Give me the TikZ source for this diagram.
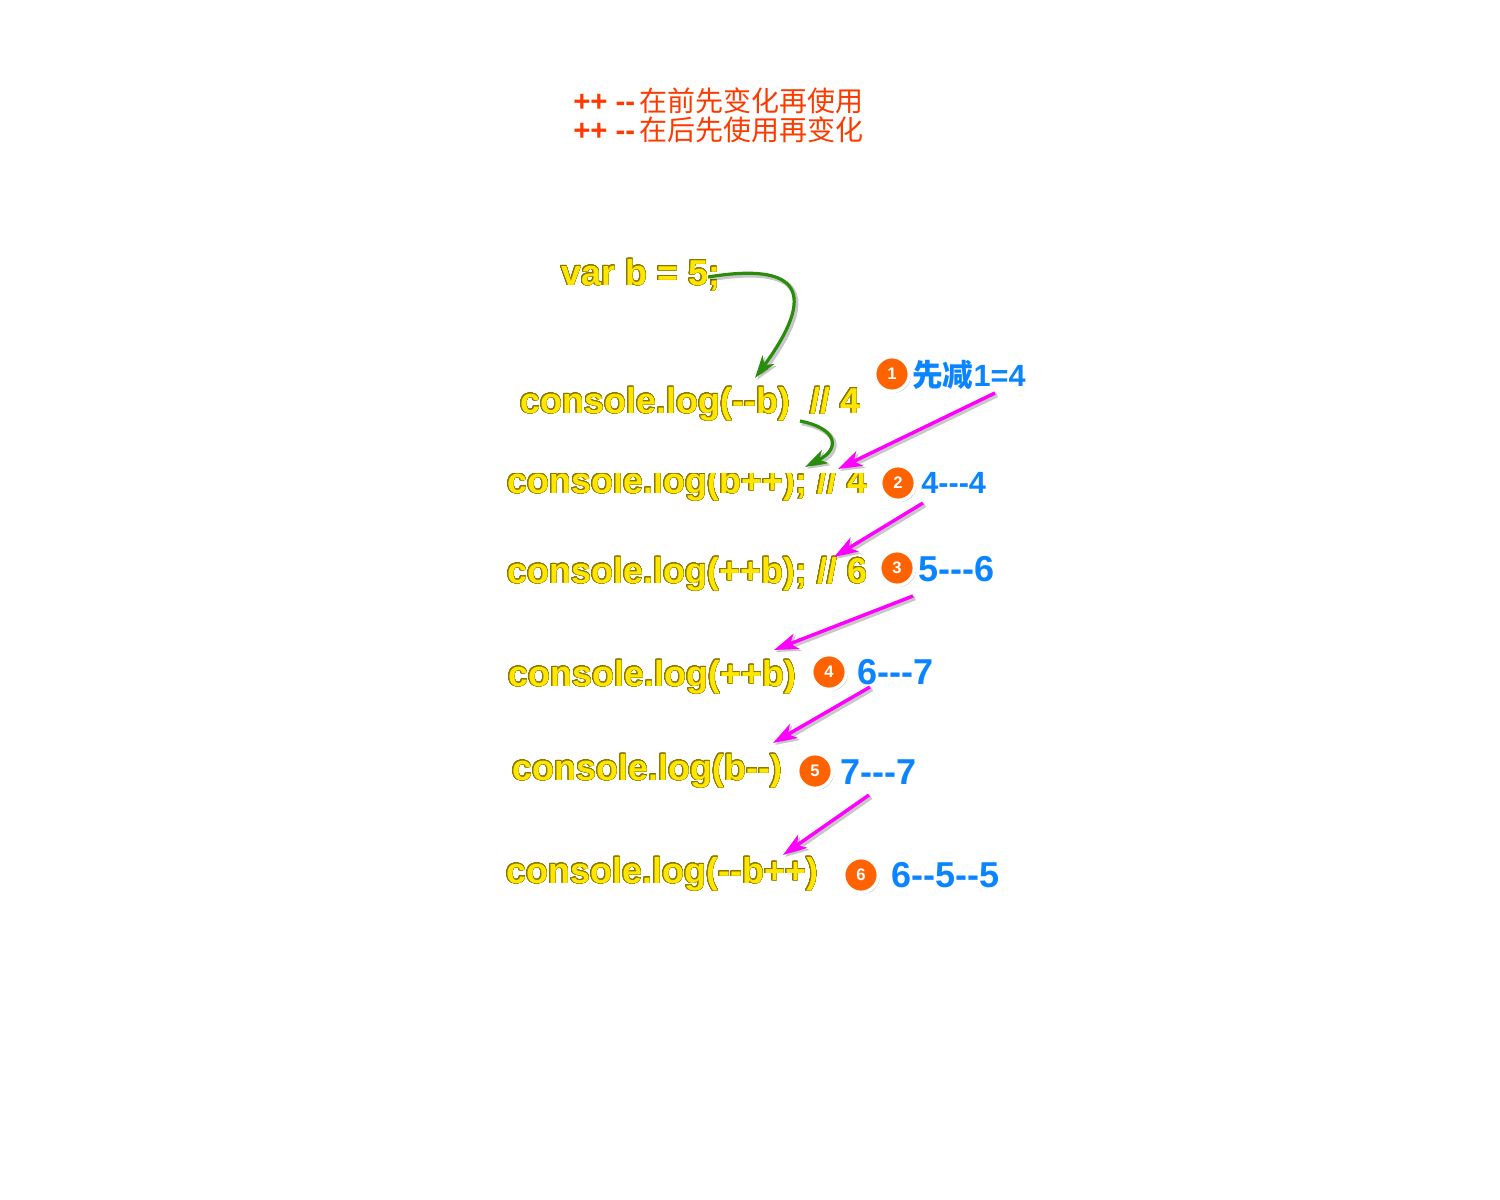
\documentclass[tikz,border=0pt]{standalone}
\usepackage{fontspec}
\setmainfont{Liberation Sans}[Ligatures=TeXOff]
\newfontfamily\cjk{Noto Sans CJK SC}
\usepackage{contour}
\contourlength{0.45pt}
\contournumber{32}
\usetikzlibrary{arrows.meta,shadows}
\definecolor{yel}{HTML}{FFE600}
\definecolor{olv}{HTML}{8A7800}
\definecolor{redtxt}{HTML}{FF3A00}
\definecolor{bluetxt}{HTML}{0A84FF}
\definecolor{orng}{HTML}{FF6200}
\definecolor{magn}{HTML}{FF00FF}
\definecolor{grn}{HTML}{2A8C0C}
\newcommand{\ycode}[1]{\contour{olv}{#1}}
\tikzset{
  code/.style={anchor=base west, inner sep=0pt, text=yel,
    font=\fontsize{27pt}{30pt}\selectfont\bfseries},
  ruletxt/.style={anchor=base west, inner sep=0pt, text=redtxt,
    font=\fontsize{22pt}{26pt}\selectfont},
  lbl/.style={anchor=base west, inner sep=0pt, text=bluetxt,
    font=\fontsize{27pt}{30pt}\selectfont\bfseries},
  lblsmall/.style={anchor=base west, inner sep=0pt, text=bluetxt,
    font=\fontsize{23pt}{26pt}\selectfont\bfseries},
  num/.style={circle, fill=orng, draw=white, line width=2.6pt, minimum size=26pt,
    inner sep=0pt, text=white, font=\fontsize{12.5pt}{13pt}\selectfont\bfseries,
    drop shadow={opacity=0.45, shadow xshift=1.2pt, shadow yshift=-1.2pt}},
  shad/.style={preaction={draw=black, opacity=0.22, line width=3.5pt,
    transform canvas={shift={(1.5pt,-1.5pt)}}}},
  marrow/.style={draw=magn, line width=2.6pt, shad,
    -{Stealth[length=18pt, width=12pt, inset=5pt]}},
  garrow/.style={draw=grn, line width=2.4pt, shad,
    -{Stealth[length=17pt, width=11pt, inset=5pt]}}
}
\begin{document}
\begin{tikzpicture}[x=0.75pt,y=-0.75pt]
\useasboundingbox[fill=white] (0,0) rectangle (1500,1200);

% rules at the top
\node[ruletxt] (rule1) at (573,111) {{\bfseries ++ --}\hspace{3pt}{\cjk\fontsize{21pt}{26pt}\selectfont 在前先变化再使用}};
\node[ruletxt] (rule2) at (573,140) {{\bfseries ++ --}\hspace{3pt}{\cjk\fontsize{21pt}{26pt}\selectfont 在后先使用再变化}};

% code lines
\node[code] (v) at (561,285) {\ycode{var b = 5;}};
\node[code] (c1) at (520,413) {\ycode{console.log(--b)\ \ // 4}};
\begin{scope}
  \clip (400,473) rectangle (1000,530);
  \node[code] (c2) at (507,493) {\ycode{console.log(b++); // 4}};
\end{scope}
\node[code] (c3) at (507,583) {\ycode{console.log(++b); // 6}};
\node[code] (c4) at (508,686) {\ycode{console.log(++b)}};
\node[code] (c5) at (512,780) {\ycode{console.log(b--)}};
\node[code] (c6) at (506,883) {\ycode{console.log(--b++)}};

% numbered circles
\node[num] (n1) at (892,374) {1};
\node[num] (n2) at (898,483) {2};
\node[num] (n3) at (897,568) {3};
\node[num] (n4) at (829,672) {4};
\node[num] (n5) at (815,771) {5};
\node[num] (n6) at (861,875) {6};

% blue labels
\node[lblsmall] (l1) at (912,386) {{\cjk 先减}1=4};
\node[lblsmall] (l2) at (921,493) {4---4};
\node[lbl] (l3) at (918,581) {5---6};
\node[lbl] (l4) at (857,684) {6---7};
\node[lbl] (l5) at (840,784) {7---7};
\node[lbl] (l6) at (891,887) {6--5--5};

% green arrows
\coordinate (g1s) at (708,277);
\coordinate (g1e) at (755,378);
\draw[garrow] (g1s) .. controls (800,262) and (818,292) .. (g1e);
\coordinate (g2s) at (800,421);
\coordinate (g2e) at (805,467);
\draw[garrow] (g2s) .. controls (836,428) and (842,448) .. (g2e);

% magenta arrows
\coordinate (m1s) at (995,393); \coordinate (m1e) at (838,469);
\coordinate (m2s) at (923,503); \coordinate (m2e) at (834,557);
\coordinate (m3s) at (913,596); \coordinate (m3e) at (774,650);
\coordinate (m4s) at (870,687); \coordinate (m4e) at (773,743);
\coordinate (m5s) at (869,795); \coordinate (m5e) at (783,855);
\draw[marrow] (m1s) -- (m1e);
\draw[marrow] (m2s) -- (m2e);
\draw[marrow] (m3s) -- (m3e);
\draw[marrow] (m4s) -- (m4e);
\draw[marrow] (m5s) -- (m5e);
\end{tikzpicture}
\end{document}
